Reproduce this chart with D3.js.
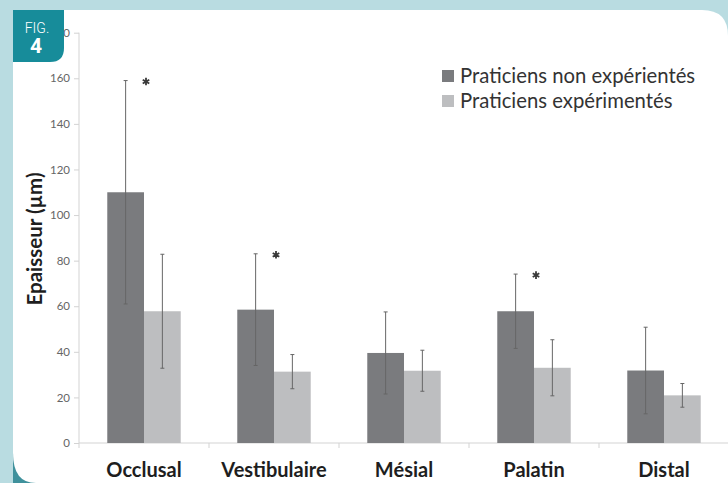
<!DOCTYPE html>
<html>
<head>
<meta charset="utf-8">
<script src="https://cdn.jsdelivr.net/npm/d3@7/dist/d3.min.js"></script>
<style>
  html, body { margin: 0; padding: 0; background: #b9dce1; }
  svg { display: block; }
</style>
</head>
<body>
<script>
// Epaisseur moyenne (µm) par face, selon l'expérience des praticiens
const categories = ["Occlusal", "Vestibulaire", "Mésial", "Palatin", "Distal"];
const seriesNames = ["Praticiens non expérientés", "Praticiens expérimentés"];
const meanNovice = [110, 58.5, 39.5, 57.8, 31.8];
const sdNovice = [49, 24.5, 18, 16.3, 19];
const meanExpert = [57.8, 31.3, 31.7, 33, 20.9];
const sdExpert = [25, 7.5, 9, 12.3, 5.2];
const significant = [true, true, false, true, false];
const yTicks = [0, 20, 40, 60, 80, 100, 120, 140, 160, 180];

const W = 728, H = 483;
const colors = ["#7a7b7e", "#bdbec0"];
const FONT = "Lato, 'Open Sans', sans-serif";

const svg = d3.select("body").append("svg").attr("width", W).attr("height", H);

// panel background
svg.append("rect").attr("width", W).attr("height", H).attr("fill", "#b9dce1");
svg.append("rect").attr("x", 13).attr("y", H - 30).attr("width", 26).attr("height", 30).attr("fill", "#3f919c");
svg.append("path").attr("d", `M${W},${H - 8} L${W},${H} L${W - 10},${H} Z`).attr("fill", "#3f919c");
svg.append("path")
  .attr("d", `M13,10 L${W - 26},10 Q${W},10 ${W},36 L${W},${H} L36,${H} Q13,${H} 13,${H - 30} Z`)
  .attr("fill", "#ffffff");

const x = d3.scaleBand().domain(categories).range([79, 729]).paddingInner(0).paddingOuter(0);
const y = d3.scaleLinear().domain([0, 180]).range([443, 32.7]);
const groupW = x.bandwidth() * 0.565;
const xs = d3.scaleBand().domain([0, 1]).range([0, groupW]);

// axes
const yAxis = d3.axisLeft(y).tickValues(yTicks).tickSize(5).tickPadding(4);
const gy = svg.append("g").attr("transform", "translate(79,0)").call(yAxis);
gy.select(".domain").attr("stroke", "#d3d3d3").attr("d", `M0,${y(180)}V448`);
gy.selectAll(".tick line").attr("stroke", "#d3d3d3");
gy.selectAll(".tick text").attr("fill", "#666").attr("font-family", FONT).attr("font-size", 11.5);

const xAxis = d3.axisBottom(x).tickSize(0).tickFormat("");
const gx = svg.append("g").attr("transform", "translate(0,443)").call(xAxis);
gx.select(".domain").attr("stroke", "#d3d3d3").attr("d", "M79,0H729");
gx.selectAll(".tick").remove();
// band boundaries
gx.selectAll("line.sep").data(categories.slice(1)).join("line")
  .attr("class", "sep")
  .attr("x1", d => x(d)).attr("x2", d => x(d))
  .attr("y1", 0).attr("y2", 5).attr("stroke", "#d3d3d3");
gx.selectAll("text.cat").data(categories).join("text")
  .attr("class", "cat")
  .attr("x", d => x(d) + x.bandwidth() / 2)
  .attr("y", 34)
  .attr("text-anchor", "middle")
  .attr("font-family", FONT).attr("font-weight", "bold").attr("font-size", 20)
  .attr("fill", "#1e1e1e")
  .text(d => d);

// y title
svg.append("text")
  .attr("transform", "translate(42,239) rotate(-90)")
  .attr("text-anchor", "middle")
  .attr("font-family", FONT).attr("font-weight", "bold").attr("font-size", 20.5)
  .attr("fill", "#1e1e1e")
  .text("Epaisseur (µm)");

// bars
const rows = categories.map((c, i) => ({
  c, i,
  vals: [
    { s: 0, m: meanNovice[i], sd: sdNovice[i] },
    { s: 1, m: meanExpert[i], sd: sdExpert[i] }
  ]
}));

const groups = svg.append("g").selectAll("g").data(rows).join("g")
  .attr("transform", d => `translate(${x(d.c) + (x.bandwidth() - groupW) / 2},0)`);

groups.selectAll("rect").data(d => d.vals).join("rect")
  .attr("x", d => xs(d.s))
  .attr("width", xs.bandwidth())
  .attr("y", d => y(d.m))
  .attr("height", d => y(0) - y(d.m))
  .attr("fill", d => colors[d.s]);

// error bars
const eb = groups.selectAll("g.err").data(d => d.vals).join("g").attr("class", "err")
  .attr("transform", d => `translate(${xs(d.s) + xs.bandwidth() / 2},0)`);
eb.append("line").attr("x1", 0).attr("x2", 0)
  .attr("y1", d => y(d.m + d.sd)).attr("y2", d => y(d.m - d.sd))
  .attr("stroke", "#666").attr("stroke-width", 1);
eb.selectAll("line.cap").data(d => [d.m + d.sd, d.m - d.sd]).join("line")
  .attr("class", "cap")
  .attr("x1", -2).attr("x2", 2)
  .attr("y1", v => y(v)).attr("y2", v => y(v))
  .attr("stroke", "#666").attr("stroke-width", 1);

// significance marks
groups.filter(d => significant[d.i]).append("path")
  .attr("transform", d => `translate(${xs(0) + xs.bandwidth() + 2},${y(d.vals[0].m + d.vals[0].sd) + 1})`)
  .attr("d", d3.symbol(d3.symbolAsterisk, 40)())
  .attr("fill", "none").attr("stroke", "#3a3a3a").attr("stroke-width", 1.8);

// legend
const legend = svg.append("g").attr("transform", "translate(442,69)");
const li = legend.selectAll("g").data(seriesNames).join("g")
  .attr("transform", (d, i) => `translate(0,${i * 25})`);
li.append("rect").attr("width", 12).attr("height", 12).attr("y", 1).attr("fill", (d, i) => colors[i]);
li.append("text").attr("x", 18).attr("y", 13.5)
  .attr("font-family", FONT).attr("font-size", 20.3).attr("fill", "#333")
  .text(d => d);

// figure badge
svg.append("path")
  .attr("d", "M13,10 H64 V48 Q64,62 50,62 H13 Z")
  .attr("fill", "#178c9a");
svg.append("text").attr("x", 37).attr("y", 33).attr("text-anchor", "middle")
  .attr("font-family", "'Roboto', sans-serif").attr("font-weight", 300).attr("font-size", 14)
  .attr("fill", "#fff").text("FIG.");
svg.append("text").attr("x", 36).attr("y", 53).attr("text-anchor", "middle")
  .attr("font-family", "'Roboto', sans-serif").attr("font-weight", "bold").attr("font-size", 21)
  .attr("fill", "#fff").text("4");
</script>
</body>
</html>
